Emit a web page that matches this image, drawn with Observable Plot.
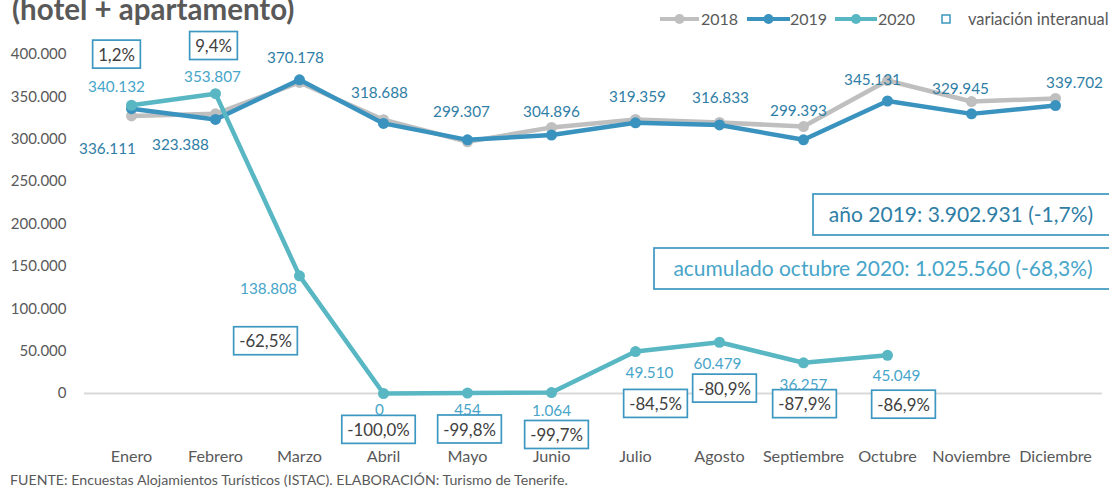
<!DOCTYPE html>
<html><head><meta charset="utf-8">
<script src="https://cdn.jsdelivr.net/npm/d3@7"></script>
<script src="https://cdn.jsdelivr.net/npm/@observablehq/plot@0.6"></script>
<style>
body{margin:0;background:#fff;}
#chart{position:relative;width:1109px;height:489px;overflow:hidden;font-family:Lato,sans-serif;}
</style>
</head><body><div id="chart"></div>
<script>
// ---- data ----
const months = ["Enero","Febrero","Marzo","Abril","Mayo","Junio","Julio","Agosto","Septiembre","Octubre","Noviembre","Diciembre"];
const v2018 = [327500, 330000, 367000, 323000, 297000, 314000, 323300, 319800, 315000, 369300, 344500, 348100];
const v2019 = [336111, 323388, 370178, 318688, 299307, 304896, 319359, 316833, 299393, 345131, 329945, 339702];
const v2020 = [340132, 353807, 138808, 0, 454, 1064, 49510, 60479, 36257, 45049];
const variation = ["1,2%","9,4%","-62,5%","-100,0%","-99,8%","-99,7%","-84,5%","-80,9%","-87,9%","-86,9%"];
const yTicks = [0, 50000, 100000, 150000, 200000, 250000, 300000, 350000, 400000];
const seriesNames = ["2018","2019","2020"];
const varLegend = "variación interanual";
const titleText = "(hotel + apartamento)";
const note2019 = "año 2019: 3.902.931 (-1,7%)";
const note2020 = "acumulado octubre 2020: 1.025.560 (-68,3%)";
const source = "FUENTE: Encuestas Alojamientos Turísticos (ISTAC). ELABORACIÓN: Turismo de Tenerife.";

// ---- label placement (offsets in px from the point) ----
const off2019 = [[-24,40],[-35,26],[-4,-22],[-4,-30],[-6,-28],[0,-23],[2,-26],[1,-27],[-5,-29],[-15,-21],[-11,-25],[19,-23]];
const off2020 = [[-15,-18],[-3,-17],[-31,13],[-4,17],[0,17],[0,18],[14,22],[-2,22],[0,22],[9,21]];
const offVar  = [[-15,-50],[-2,-47],[-34,66],[-5,37],[2,37],[5,43],[20,53],[5,47],[1,42],[16,50]];

// ---- styles ----
const C18 = "#bfbfbf", C19 = "#3a93bf", C20 = "#58b7c3";
const L19 = "#2f7ea6", L20 = "#47a5c9", BOX = "#3c97c1", TXT = "#404040", AX = "#595959";

const locale = d3.formatLocale({decimal: ",", thousands: ".", grouping: [3], currency: ["", " €"]});
const fmt = locale.format(",");

const rows = (vals) => vals.map((value, i) => ({month: months[i], value}));
const d18 = rows(v2018), d19 = rows(v2019), d20 = rows(v2020);
const varRows = variation.map((text, i) => ({month: months[i], value: v2020[i], text}));

const labelMarks = (data, offsets, fill) => data.map((d, i) =>
  Plot.text([d], {x: "month", y: "value", text: r => fmt(r.value), dx: offsets[i][0], dy: offsets[i][1], fill, fontSize: 15.3}));
const varMarks = varRows.map((d, i) =>
  Plot.text([d], {x: "month", y: "value", text: "text", dx: offVar[i][0], dy: offVar[i][1], fill: TXT, fontSize: 16.8, className: "varbox"}));

const plot = Plot.plot({
  width: 1109, height: 489,
  marginLeft: 84, marginRight: 7, marginTop: 0, marginBottom: 49,
  style: {fontFamily: "Lato, sans-serif", background: "transparent", overflow: "visible"},
  x: {type: "point", domain: months, padding: 0.5, label: null},
  y: {domain: [0, 400000], range: [393, 54], label: null},
  marks: [
    Plot.ruleY([0], {stroke: "#d9d9d9", strokeWidth: 2}),
    Plot.axisY({ticks: yTicks, tickFormat: fmt, tickSize: 0, tickPadding: 18, fontSize: 15, color: AX, label: null}),
    Plot.axisX({tickSize: 0, tickPadding: 10, fontSize: 16.2, color: AX, label: null}),
    Plot.line(d18, {x: "month", y: "value", stroke: C18, strokeWidth: 4.5}),
    Plot.dot(d18, {x: "month", y: "value", fill: C18, r: 5.5}),
    Plot.line(d19, {x: "month", y: "value", stroke: C19, strokeWidth: 4.5}),
    Plot.dot(d19, {x: "month", y: "value", fill: C19, r: 5.5}),
    Plot.line(d20, {x: "month", y: "value", stroke: C20, strokeWidth: 4.5}),
    Plot.dot(d20, {x: "month", y: "value", fill: C20, r: 5.5}),
    ...labelMarks(d19, off2019, L19),
    ...labelMarks(d20, off2020, L20),
    ...varMarks
  ]
});
document.getElementById("chart").appendChild(plot);

const svg = d3.select(plot);

// boxes around variation labels
svg.selectAll("g.varbox text").each(function() {
  const b = this.getBBox();
  const r = document.createElementNS("http://www.w3.org/2000/svg", "rect");
  const tr = this.getAttribute("transform");
  if (tr) r.setAttribute("transform", tr);
  r.setAttribute("x", b.x - 5.5); r.setAttribute("y", b.y + b.height / 2 - 14);
  r.setAttribute("width", b.width + 11); r.setAttribute("height", 28);
  r.setAttribute("fill", "#fff"); r.setAttribute("stroke", BOX); r.setAttribute("stroke-width", 1.7);
  this.parentNode.insertBefore(r, this);
});

// title
svg.append("text").attr("x", 12).attr("y", 20).attr("text-anchor", "start").attr("font-size", 29.5).attr("font-weight", "bold")
  .attr("fill", AX).text(titleText);

// legend
const lg = svg.append("g").attr("font-size", 16).attr("fill", AX).attr("text-anchor", "start");
const legendItems = [[660, 699, C18, 701], [747, 790, C19, 790], [835, 877, C20, 878]];
legendItems.forEach(([x1, x2, c, tx], i) => {
  lg.append("line").attr("x1", x1).attr("x2", x2).attr("y1", 19).attr("y2", 19).attr("stroke", c).attr("stroke-width", 4);
  lg.append("circle").attr("cx", (x1 + x2) / 2).attr("cy", 19).attr("r", 5).attr("fill", c);
  lg.append("text").attr("x", tx).attr("y", 19).attr("dy", "0.35em").text(seriesNames[i]);
});
lg.append("rect").attr("x", 942).attr("y", 15).attr("width", 8).attr("height", 8).attr("fill", "none").attr("stroke", BOX).attr("stroke-width", 1.5);
lg.append("text").attr("x", 968).attr("y", 19).attr("dy", "0.35em").attr("font-size", 16.4).text(varLegend);

// annotation boxes
svg.append("rect").attr("x", 813).attr("y", 194).attr("width", 320).attr("height", 41).attr("fill", "#fff").attr("stroke", BOX).attr("stroke-width", 1.7);
svg.append("text").attr("x", 961).attr("y", 215).attr("dy", "0.35em").attr("text-anchor", "middle").attr("font-size", 21).attr("fill", L19).text(note2019);
svg.append("rect").attr("x", 654).attr("y", 248).attr("width", 480).attr("height", 41).attr("fill", "#fff").attr("stroke", BOX).attr("stroke-width", 1.7);
svg.append("text").attr("x", 883).attr("y", 269).attr("dy", "0.35em").attr("text-anchor", "middle").attr("font-size", 21).attr("fill", L20).text(note2020);

// source
svg.append("text").attr("x", 10).attr("y", 485).attr("text-anchor", "start").attr("font-size", 14.2).attr("fill", AX).text(source);
</script>
</body></html>
